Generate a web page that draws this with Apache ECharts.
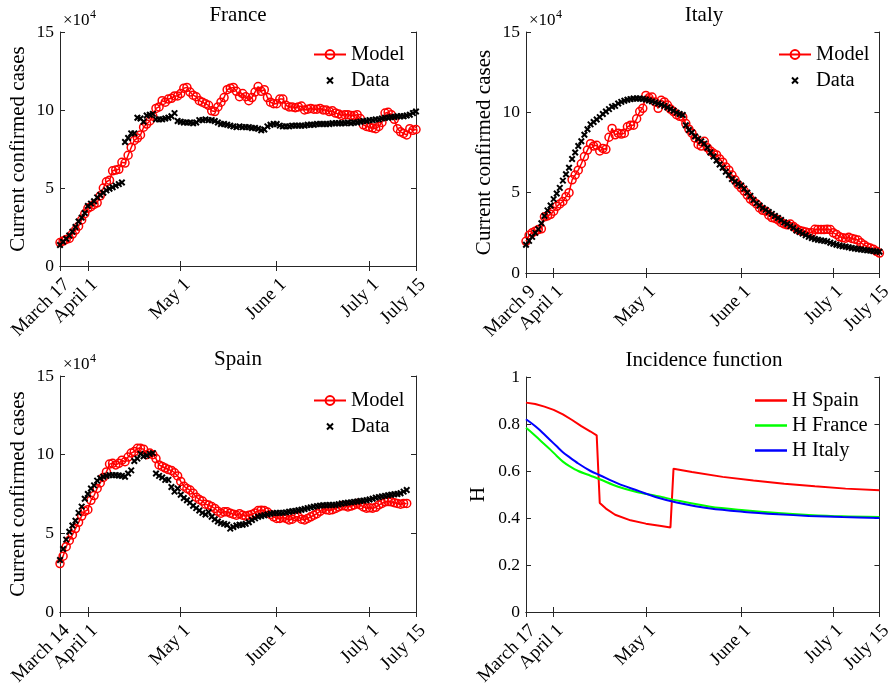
<!DOCTYPE html>
<html><head><meta charset="utf-8">
<script src="https://cdn.jsdelivr.net/npm/echarts@6/dist/echarts.min.js"></script>
<style>html,body{margin:0;padding:0;background:#fff}#c{width:895px;height:689px}</style>
</head><body><div id="c"></div>
<script>
// ---- tick positions (day index) and labels ----
const tickDays = [1, 10, 40, 71, 101, 116];
const franceTickLabels = ['March 17', 'April 1', 'May 1', 'June 1', 'July 1', 'July 15'];
const italyTickLabels = ['March 9', 'April 1', 'May 1', 'June 1', 'July 1', 'July 15'];
const spainTickLabels = ['March 14', 'April 1', 'May 1', 'June 1', 'July 1', 'July 15'];
const incidenceTickLabels = ['March 17', 'April 1', 'May 1', 'June 1', 'July 1', 'July 15'];

// ---- current confirmed cases, in units of 10^4, one value per day ----
const franceModel = [1.5,1.6,1.7,1.77,2.05,2.3,2.55,2.95,3.35,3.7,
  3.8,3.95,4.05,4.5,5.0,5.4,5.5,6.1,6.15,6.2,
  6.65,6.6,7.1,7.6,8.05,8.2,8.4,8.9,9.1,9.3,
  9.6,10.1,10.2,10.6,10.5,10.7,10.75,10.9,10.9,11.05,
  11.4,11.45,11.15,10.95,10.85,10.6,10.5,10.4,10.3,9.95,
  9.9,10.2,10.5,10.8,11.3,11.4,11.45,11.2,10.85,11.05,
  10.85,10.6,10.8,11.15,11.5,11.2,11.3,10.8,10.5,10.4,
  10.4,10.7,10.7,10.3,10.2,10.2,10.15,10.2,10.25,10.0,
  10.05,10.1,10.05,10.05,10.1,10.0,10.0,9.9,9.95,9.8,
  9.75,9.65,9.7,9.7,9.65,9.65,9.7,9.45,9.05,8.95,
  8.9,8.85,8.8,8.95,9.2,9.8,9.85,9.7,9.4,8.8,
  8.6,8.5,8.4,8.8,8.7,8.75];
const franceData = [1.35,1.55,1.75,1.95,2.2,2.5,2.85,3.1,3.4,3.85,
  4.0,4.15,4.4,4.55,4.7,4.85,4.95,5.05,5.15,5.25,
  5.35,7.95,8.2,8.5,8.5,9.5,9.45,9.25,9.65,9.7,
  9.75,9.4,9.4,9.4,9.45,9.5,9.6,9.8,9.3,9.25,
  9.2,9.2,9.2,9.15,9.2,9.35,9.35,9.4,9.35,9.35,
  9.3,9.2,9.1,9.1,9.05,9.0,8.95,8.9,8.95,8.9,
  8.9,8.9,8.85,8.85,8.8,8.7,8.75,8.95,9.05,9.1,
  9.1,9.0,8.95,8.95,8.95,9.0,9.0,9.0,9.0,9.0,
  9.05,9.05,9.05,9.1,9.1,9.1,9.1,9.1,9.15,9.15,
  9.15,9.15,9.15,9.2,9.15,9.2,9.2,9.25,9.3,9.3,
  9.35,9.35,9.4,9.4,9.45,9.5,9.5,9.55,9.55,9.6,
  9.6,9.6,9.65,9.7,9.8,9.9];
const italyModel = [1.97,2.35,2.5,2.6,2.7,2.75,3.5,3.55,3.65,3.85,
  4.15,4.3,4.45,4.75,5.0,5.8,6.1,6.4,6.8,7.25,
  7.65,8.05,7.9,7.95,7.6,7.75,7.7,8.45,9.0,8.6,
  8.7,8.65,8.7,9.1,9.2,9.2,9.6,10.05,10.25,11.05,
  10.9,10.95,10.65,10.25,10.75,10.65,10.45,10.2,10.05,9.85,
  9.75,9.7,9.3,8.95,8.7,8.4,8.0,7.9,8.2,7.8,
  7.6,7.45,7.35,7.1,6.9,6.6,6.4,6.1,5.8,5.5,
  5.3,5.1,4.85,4.6,4.45,4.3,4.05,3.9,3.85,3.6,
  3.45,3.4,3.3,3.15,3.05,3.0,3.05,2.9,2.75,2.65,
  2.6,2.55,2.5,2.5,2.72,2.7,2.7,2.7,2.72,2.7,
  2.5,2.4,2.25,2.2,2.17,2.22,2.15,2.1,2.05,1.88,
  1.75,1.62,1.55,1.48,1.35,1.24];
const italyData = [1.76,2.0,2.25,2.5,2.73,3.1,3.55,3.9,4.2,4.6,
  4.95,5.3,5.75,6.15,6.55,7.1,7.5,7.9,8.2,8.6,
  8.95,9.25,9.4,9.55,9.7,9.9,10.05,10.2,10.35,10.4,
  10.55,10.65,10.72,10.78,10.82,10.86,10.86,10.86,10.84,10.8,
  10.74,10.68,10.62,10.55,10.48,10.4,10.3,10.2,10.1,9.98,
  9.9,9.83,9.2,8.9,8.75,8.5,8.35,8.2,8.05,7.8,
  7.5,7.25,7.0,6.75,6.55,6.3,6.1,5.85,5.7,5.55,
  5.45,5.25,5.0,4.8,4.55,4.35,4.2,4.05,3.93,3.8,
  3.68,3.55,3.42,3.3,3.15,3.05,2.92,2.8,2.65,2.55,
  2.45,2.35,2.25,2.18,2.12,2.07,2.03,2.0,1.97,1.88,
  1.82,1.76,1.71,1.67,1.64,1.6,1.56,1.52,1.49,1.46,
  1.44,1.41,1.39,1.36,1.33,1.32];
const spainModel = [3.08,3.55,4.15,4.55,4.9,5.3,5.7,6.1,6.4,6.5,
  7.1,7.4,7.85,8.2,8.55,8.9,9.4,9.45,9.35,9.45,
  9.65,9.55,9.85,10.1,10.2,10.4,10.4,10.35,10.0,10.1,
  10.0,9.75,9.35,9.25,9.15,9.05,9.0,8.85,8.65,8.3,
  8.0,7.85,7.75,7.55,7.3,7.15,7.05,6.85,6.8,6.7,
  6.58,6.4,6.28,6.37,6.37,6.28,6.22,6.15,6.25,6.15,
  6.1,6.15,6.2,6.3,6.45,6.47,6.45,6.35,6.2,6.05,
  5.95,5.95,6.0,5.95,5.85,5.9,6.05,6.05,5.9,5.85,
  5.95,6.05,6.15,6.25,6.4,6.58,6.5,6.47,6.5,6.58,
  6.68,6.75,6.75,6.68,6.73,6.8,6.9,6.8,6.68,6.6,
  6.62,6.6,6.65,6.8,6.9,7.0,7.02,7.0,6.95,6.9,
  6.85,6.9,6.9];
const spainData = [3.3,4.0,4.6,5.1,5.5,5.8,6.3,6.7,7.2,7.5,
  7.85,8.05,8.35,8.5,8.6,8.65,8.7,8.7,8.7,8.68,
  8.65,8.6,8.8,9.0,9.6,9.75,10.05,9.9,9.95,10.05,
  10.1,8.8,8.65,8.55,8.4,8.4,7.95,7.65,7.85,7.45,
  7.25,7.1,6.95,6.75,6.6,6.45,6.3,6.2,6.35,6.05,
  5.9,5.75,5.65,5.6,5.55,5.3,5.4,5.5,5.55,5.55,
  5.6,5.7,5.85,5.95,6.05,6.1,6.15,6.2,6.25,6.28,
  6.3,6.3,6.3,6.33,6.37,6.4,6.43,6.47,6.5,6.55,
  6.6,6.65,6.7,6.73,6.76,6.78,6.79,6.8,6.8,6.8,
  6.85,6.9,6.92,6.95,6.97,7.0,7.02,7.05,7.08,7.1,
  7.15,7.2,7.27,7.3,7.35,7.38,7.42,7.45,7.48,7.5,
  7.55,7.65,7.75];

// ---- incidence function H (sampled days and values) ----
const hSpainDays = [1,4,7,10,13,16,19,22,24,25,27,30,35,40,45,48,49,55,65,75,85,95,105,116];
const hSpainValues = [0.891,0.885,0.874,0.86,0.841,0.817,0.791,0.768,0.752,0.464,0.44,0.414,0.39,0.376,0.366,0.36,0.61,0.596,0.575,0.56,0.546,0.535,0.525,0.518];
const hFranceDays = [1,3,5,7,9,11,13,15,18,22,25,31,37,44,50,61,72,83,93,104,116];
const hFranceValues = [0.784,0.762,0.738,0.714,0.69,0.664,0.64,0.622,0.6,0.58,0.565,0.533,0.511,0.493,0.475,0.448,0.433,0.421,0.413,0.407,0.404];
const hItalyDays = [1,3,5,7,9,11,13,15,18,22,25,31,37,44,50,61,72,83,93,104,116];
const hItalyValues = [0.82,0.801,0.78,0.755,0.73,0.705,0.68,0.66,0.632,0.6,0.582,0.546,0.518,0.486,0.466,0.44,0.426,0.416,0.409,0.404,0.4];

// ---------------------------------------------------------------
const FONT = "'Liberation Serif', 'Times New Roman', serif";
const AX = '#262626';
const TXT = '#000';
const byDay = vals => vals.map((v, i) => [i + 1, v]);
const zip = (xs, ys) => xs.map((x, i) => [x, ys[i]]);

const panels = [
  {grid: {left: 60, top: 32, width: 356, height: 234}, labels: franceTickLabels, ymax: 15, yint: 5, yname: 'Current confirmed cases', gap: 31, title: 'France'},
  {grid: {left: 526, top: 32, width: 356, height: 241}, labels: italyTickLabels, ymax: 15, yint: 5, yname: 'Current confirmed cases', gap: 31, title: 'Italy'},
  {grid: {left: 60, top: 376, width: 356, height: 236}, labels: spainTickLabels, ymax: 15, yint: 5, yname: 'Current confirmed cases', gap: 31, title: 'Spain'},
  {grid: {left: 526, top: 377, width: 356, height: 235}, labels: incidenceTickLabels, ymax: 1, yint: 0.2, yname: 'H', gap: 37, title: 'Incidence function'}
];

const grids = [], xAxes = [], yAxes = [], graphics = [];
const lineAx = {show: true, lineStyle: {color: AX, width: 1}};
const tickSt = {color: AX, width: 1};
const txt = (x, y, text, size, align) => ({type: 'text', x: x, y: y, silent: true,
  style: {text: text, fill: TXT, font: 'normal ' + size + 'px ' + FONT,
    align: align, textAlign: align, verticalAlign: 'top', textVerticalAlign: 'top'}});
panels.forEach((p, g) => {
  grids.push(Object.assign({containLabel: false}, p.grid));
  xAxes.push({gridIndex: g, type: 'value', min: 1, max: 116, position: 'bottom',
    axisLine: lineAx, splitLine: {show: false},
    axisTick: {show: true, inside: true, length: 5, customValues: tickDays, lineStyle: tickSt},
    axisLabel: {show: true, customValues: tickDays, rotate: 45, margin: 9, verticalAlign: 'top',
      color: TXT, fontFamily: FONT, fontSize: 19,
      formatter: v => p.labels[tickDays.indexOf(v)]}});
  xAxes.push({gridIndex: g, type: 'value', min: 1, max: 116, position: 'top',
    axisLine: lineAx, splitLine: {show: false},
    axisTick: {show: true, inside: true, length: 5, customValues: tickDays, lineStyle: tickSt},
    axisLabel: {show: false}});
  yAxes.push({gridIndex: g, type: 'value', min: 0, max: p.ymax, interval: p.yint, position: 'left',
    axisLine: lineAx, splitLine: {show: false},
    axisTick: {show: true, inside: true, length: 5, lineStyle: tickSt},
    axisLabel: {color: TXT, fontFamily: FONT, fontSize: 17.5, margin: 6},
    name: p.yname, nameLocation: 'middle', nameGap: p.gap, nameRotate: 90,
    nameTextStyle: {color: TXT, fontFamily: FONT, fontSize: 21}});
  yAxes.push({gridIndex: g, type: 'value', min: 0, max: p.ymax, interval: p.yint, position: 'right',
    axisLine: lineAx, splitLine: {show: false},
    axisTick: {show: true, inside: true, length: 5, lineStyle: tickSt},
    axisLabel: {show: false}});
  graphics.push(txt(p.grid.left + p.grid.width / 2, p.grid.top - 27, p.title, 21, 'center'));
  if (g < 3) {
    graphics.push(txt(p.grid.left + 3, p.grid.top - 20, '×10', 17, 'left'));
    graphics.push(txt(p.grid.left + 30, p.grid.top - 23, '4', 12, 'left'));
  }
});

const modelStyle = (g) => ({name: 'Model', type: 'line', xAxisIndex: 2 * g, yAxisIndex: 2 * g,
  symbol: 'circle', symbolSize: 8, showSymbol: true,
  lineStyle: {color: '#ff0000', width: 1.5},
  itemStyle: {color: 'rgba(255,255,255,0)', borderColor: '#ff0000', borderWidth: 1.5},
  emphasis: {disabled: true}, animation: false, z: 2});
const dataStyle = (g) => ({name: 'Data', type: 'scatter', xAxisIndex: 2 * g, yAxisIndex: 2 * g,
  symbol: 'path://M0,0L10,10M10,0L0,10', symbolSize: 5.5,
  itemStyle: {color: '#000', borderColor: '#000', borderWidth: 2, opacity: 1},
  emphasis: {disabled: true}, animation: false, z: 3});

const series = [
  Object.assign(modelStyle(0), {data: byDay(franceModel)}),
  Object.assign(dataStyle(0), {data: byDay(franceData)}),
  Object.assign(modelStyle(1), {data: byDay(italyModel)}),
  Object.assign(dataStyle(1), {data: byDay(italyData)}),
  Object.assign(modelStyle(2), {data: byDay(spainModel)}),
  Object.assign(dataStyle(2), {data: byDay(spainData)}),
  {name: 'H Spain', type: 'line', xAxisIndex: 6, yAxisIndex: 6, symbol: 'none', data: zip(hSpainDays, hSpainValues),
    lineStyle: {color: '#ff0000', width: 2}, itemStyle: {color: '#ff0000'}, animation: false},
  {name: 'H France', type: 'line', xAxisIndex: 6, yAxisIndex: 6, symbol: 'none', smooth: 0.3, data: zip(hFranceDays, hFranceValues),
    lineStyle: {color: '#00ff00', width: 2}, itemStyle: {color: '#00ff00'}, animation: false},
  {name: 'H Italy', type: 'line', xAxisIndex: 6, yAxisIndex: 6, symbol: 'none', smooth: 0.3, data: zip(hItalyDays, hItalyValues),
    lineStyle: {color: '#0000ff', width: 2}, itemStyle: {color: '#0000ff'}, animation: false}
];

const dataIcon = 'path://M0,0M11,11M2.5,2.5L8.5,8.5M8.5,2.5L2.5,8.5';
const legendBase = {orient: 'vertical', itemWidth: 32, itemHeight: 11, itemGap: 5, padding: 0,
  selectedMode: false, textStyle: {color: TXT, fontFamily: FONT, fontSize: 20.5}};
const legends = [
  Object.assign({}, legendBase, {left: 313, top: 44, data: [{name: 'Model'}, {name: 'Data', icon: dataIcon}]}),
  Object.assign({}, legendBase, {left: 778, top: 44, data: [{name: 'Model'}, {name: 'Data', icon: dataIcon}]}),
  Object.assign({}, legendBase, {left: 313, top: 390, data: [{name: 'Model'}, {name: 'Data', icon: dataIcon}]}),
  Object.assign({}, legendBase, {left: 755, top: 390, itemHeight: 2.5, itemGap: 4,
    data: [{name: 'H Spain', icon: 'rect'}, {name: 'H France', icon: 'rect'}, {name: 'H Italy', icon: 'rect'}]})
];

const chart = echarts.init(document.getElementById('c'), null, {renderer: 'canvas'});
chart.setOption({
  backgroundColor: '#fff',
  animation: false,
  grid: grids, xAxis: xAxes, yAxis: yAxes,
  legend: legends,
  series: series,
  graphic: graphics
});
</script></body></html>
